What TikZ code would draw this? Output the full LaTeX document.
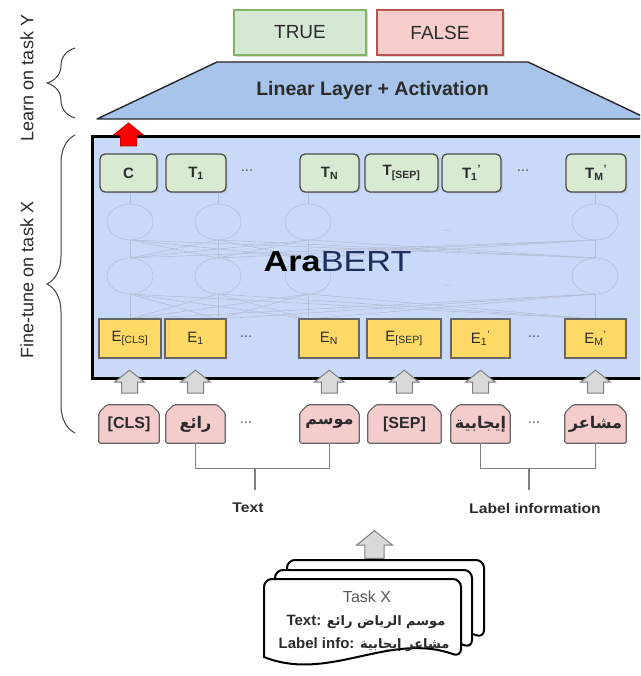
\documentclass[tikz,border=0pt]{standalone}
\usepackage{fontspec}
\usepackage{graphicx}
\setmainfont{Liberation Sans}
\newfontfamily\arabicfont[Script=Arabic]{DejaVu Sans}
\TeXXeTstate=1
\usetikzlibrary{decorations.pathreplacing,shadows,calc}
\pgfdeclarelayer{bg}
\pgfsetlayers{bg,main}
\newcommand\myfs[1]{\fontsize{#1}{#1}\selectfont}
\newcommand\artxt[1]{{\arabicfont\bfseries\beginR #1\endR}}
\definecolor{truefill}{HTML}{D5E8D4}
\definecolor{trueline}{HTML}{82B366}
\definecolor{falsefill}{HTML}{F8CECC}
\definecolor{falseline}{HTML}{B85450}
\definecolor{trapfill}{HTML}{A9C4EB}
\definecolor{bertfill}{HTML}{C9DAF8}
\definecolor{tfill}{HTML}{D9EAD3}
\definecolor{efill}{HTML}{FFD966}
\definecolor{tokfill}{HTML}{F4CCCC}
\definecolor{arrfill}{HTML}{D9D9D9}
\definecolor{arrline}{HTML}{7F7F7F}
\definecolor{nwline}{HTML}{B3BFD6}
\definecolor{bertblue}{HTML}{1C2F5C}
\definecolor{txtdark}{HTML}{2B2B2B}
\begin{document}
\begin{tikzpicture}[x=1pt,y=-1pt,
  outbox/.style={draw, line width=1.3pt, minimum height=45pt, inner sep=0pt,
    font=\myfs{19}, text=txtdark,
    drop shadow={opacity=0.3, shadow xshift=2pt, shadow yshift=-2pt}},
  trap/.style={fill=trapfill, draw=black!85, line width=1.4pt, line join=round},
  bertbox/.style={fill=bertfill, draw=black, line width=3pt},
  tbox/.style={draw=black!70, fill=tfill, line width=1.3pt, rounded corners=5pt,
    minimum height=38pt, inner sep=0pt, font={\bfseries\myfs{15}}, text=txtdark,
    drop shadow={opacity=0.25, shadow xshift=1.5pt, shadow yshift=-1.5pt}},
  ebox/.style={draw=black!60, fill=efill, line width=1.2pt,
    minimum height=39pt, inner sep=0pt, font={\myfs{15}}, text=txtdark},
  tok/.style={minimum height=38pt, inner sep=0pt, font={\bfseries\myfs{16}}, text=txtdark},
  tokshape/.style={draw=black!60, fill=tokfill, line width=1.2pt, rounded corners=1.5pt},
  dots/.style={font={\myfs{15}}, text=black!65},
  nw/.style={draw=nwline, line width=0.6pt},
  garrow/.style={fill=arrfill, draw=arrline, line width=1pt, line join=miter},
  conn/.style={draw=black!50, line width=1.4pt},
  brc/.style={draw=black!75, line width=1pt, decorate, decoration={brace, amplitude=28pt}},
  sidelbl/.style={rotate=90, font={\myfs{18}}, text=txtdark},
  docline/.style={draw=black, fill=white, line width=2pt},
  pics/fatup/.style={code={\draw[pic actions] (-8,11.5) -- (-8,0.5) -- (-15,0.5) -- (0,-11.5) -- (15,0.5) -- (8,0.5) -- (8,11.5) -- cycle;}}
]
\useasboundingbox (0,0) rectangle (640,676);
\clip (0,0) rectangle (640,676);

% side braces and labels
\draw[brc] (75,118) -- (75,48);
\node[sidelbl] (learn) at (27,78) {Learn on task Y};
\draw[brc] (75,433) -- (75,135);
\node[sidelbl] (fine) at (27,280) {Fine-tune on task X};

% outputs
\node[outbox, fill=truefill, draw=trueline, minimum width=132pt] (true) at (300,32.5) {TRUE};
\node[outbox, fill=falsefill, draw=falseline, minimum width=126pt] (false) at (440,32.5) {FALSE};

% linear layer
\draw[trap] (97,119) -- (217,62) -- (528,62) -- (648,119) -- cycle;
\node[font={\bfseries\myfs{19.5}}, text=txtdark] (linear) at (372.5,90) {Linear Layer + Activation};

% AraBERT box
\draw[bertbox] (92,137) rectangle (655,378);

% faint network
\foreach \a in {130,218,308,595}{
  \draw[nw] (\a,222) ellipse (23 and 18);
  \draw[nw] (\a,276) ellipse (23 and 18);
  \draw[nw] (\a,193) -- (\a,204);
  \draw[nw] (\a,240) -- (\a,258);
  \draw[nw] (\a,294) -- (\a,319);
  \foreach \b in {130,218,308,595}{
    \draw[nw] (\a,258) -- (\b,240);
    \draw[nw] (\a,319) -- (\b,294);
  }
}
\node[font={\myfs{12}}, text=nwline] (nd1) at (447,231) {...};
\node[font={\myfs{12}}, text=nwline] (nd2) at (447,286) {...};

\node (arabert) at (337.5,262) {\scalebox{1.18}[1]{\myfs{29}\textbf{Ara}\textcolor{bertblue}{BERT}}};

% T row
\node[tbox, minimum width=57pt] (tc) at (128.5,173) {C};
\node[tbox, minimum width=60pt] (t1) at (196,173) {T\textsubscript{1}};
\node[dots] (tdots1) at (247,171) {...};
\node[tbox, minimum width=59pt] (tn) at (329.5,173) {T\textsubscript{N}};
\node[tbox, minimum width=73pt] (tsep) at (401.5,173) {T\textsubscript{[SEP]}};
\node[tbox, minimum width=59pt] (t1p) at (471.5,173) {T\textsubscript{1}\textsuperscript{'}};
\node[dots] (tdots2) at (523,171) {...};
\node[tbox, minimum width=60pt] (tmp) at (596,173) {T\textsubscript{M}\textsuperscript{'}};

% red arrow from C to linear layer
\pic[fill=red, draw=red!80!black, line width=0.8pt] at (128.5,134.5) {fatup};

% E row
\node[ebox, minimum width=62pt] (ecls) at (130,338.5) {E\textsubscript{[CLS]}};
\node[ebox, minimum width=61pt] (e1) at (195.5,338.5) {E\textsubscript{1}};
\node[dots] (edots1) at (246,337) {...};
\node[ebox, minimum width=60pt] (en) at (329,338.5) {E\textsubscript{N}};
\node[ebox, minimum width=74pt] (esep) at (404,338.5) {E\textsubscript{[SEP]}};
\node[ebox, minimum width=59pt] (e1p) at (480.5,338.5) {E\textsubscript{1}\textsuperscript{'}};
\node[dots] (edots2) at (534,337) {...};
\node[ebox, minimum width=61pt] (emp) at (595.5,338.5) {E\textsubscript{M}\textsuperscript{'}};

% token row
\node[tok, minimum width=60pt] (kcls) at (129,424) {[CLS]};
\node[tok, minimum width=59pt] (k1) at (195.5,424) {\artxt{رائع}};
\node[dots] (kdots1) at (246,423) {...};
\node[tok, minimum width=59pt] (kn) at (329.5,424) {\artxt{موسم}};
\node[tok, minimum width=73pt] (ksep) at (404.5,424) {[SEP]};
\node[tok, minimum width=59pt] (k1p) at (480.5,424) {\artxt{إيجابية}};
\node[dots] (kdots2) at (534,423) {...};
\node[tok, minimum width=61pt] (kmp) at (595.5,424) {\artxt{مشاعر}};
\begin{pgfonlayer}{bg}
\foreach \k in {kcls,k1,kn,ksep,k1p,kmp}{
  \draw[tokshape] (\k.south west) -- ($(\k.north west)+(0,8)$) -- ($(\k.north west)+(8,0)$)
    -- ($(\k.north east)+(-8,0)$) -- ($(\k.north east)+(0,8)$) -- (\k.south east) -- cycle;
}
\end{pgfonlayer}

% gray arrows token -> embedding
\pic[garrow] at ($(kcls.north)!0.5!(ecls.south)$) {fatup};
\pic[garrow] at ($(k1.north)!0.5!(e1.south)$) {fatup};
\pic[garrow] at ($(kn.north)!0.5!(en.south)$) {fatup};
\pic[garrow] at ($(ksep.north)!0.5!(esep.south)$) {fatup};
\pic[garrow] at ($(k1p.north)!0.5!(e1p.south)$) {fatup};
\pic[garrow] at ($(kmp.north)!0.5!(emp.south)$) {fatup};

% grouping connectors
\draw[conn] (k1.south) -- ++(0,25) -| (kn.south);
\coordinate (tj) at (255,468);
\coordinate (te) at (255,490);
\draw[conn] (tj) -- (te);
\draw[conn] (k1p.south) -- ++(0,25) -| (kmp.south);
\coordinate (lj) at (529,468);
\coordinate (le) at (529,490);
\draw[conn] (lj) -- (le);
\node[text=txtdark] (textlbl) at (248,508) {\scalebox{1.12}[1]{\bfseries\myfs{14}Text}};
\node[text=txtdark] (labellbl) at (535,508) {\scalebox{1.12}[1]{\bfseries\myfs{14}Label information}};

% task documents
\foreach \dx/\dy in {287/560, 275/570, 264/579}{
  \draw[docline] (\dx,\dy+78) [rounded corners=8pt] -- (\dx,\dy) -- (\dx+197,\dy) -- (\dx+197,\dy+78) [sharp corners]
     .. controls (\dx+125,\dy+52) and (\dx+65,\dy+104) .. (\dx,\dy+78) -- cycle;
}
\pic[garrow, scale=1.2] at (374.5,544.5) {fatup};
\node[font={\myfs{16}}, text=black!65] (taskx) at (367,597) {Task X};
\node[text=txtdark] (doctext) at (366,622) {\bfseries\myfs{15}Text: {\myfs{13}\artxt{موسم الرياض رائع}}};
\node[text=txtdark] (docinfo) at (364,645) {\bfseries\myfs{15}Label info: {\myfs{13}\artxt{مشاعر إيجابية}}};
\end{tikzpicture}
\end{document}
